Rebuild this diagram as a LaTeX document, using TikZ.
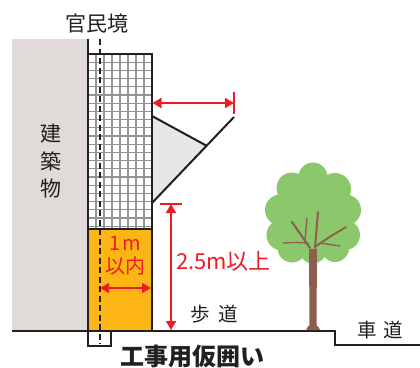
\documentclass[tikz,border=0pt]{standalone}
\usepackage{fontspec}
\setmainfont{Noto Sans CJK JP}
\usetikzlibrary{arrows.meta}
\definecolor{wallc}{HTML}{E0DBD8}
\definecolor{inkc}{HTML}{231F20}
\definecolor{redc}{HTML}{ED1C24}
\definecolor{orangec}{HTML}{FDB515}
\definecolor{gridc}{HTML}{939598}
\definecolor{awningc}{HTML}{E6E7E8}
\definecolor{leafc}{HTML}{8BC76B}
\definecolor{trunkc}{HTML}{8B5E4D}
\tikzset{
  outline/.style={draw=inkc,line width=2pt},
  dim/.style={draw=redc,line width=1.7pt},
  dimarrow/.style={dim,{Triangle[length=9pt,width=10pt]}-{Triangle[length=9pt,width=10pt]}},
  lab/.style={text=inkc,inner sep=0pt,font=\fontsize{21}{27.5}\selectfont,align=center},
  sublab/.style={text=inkc,inner sep=0pt,font=\fontsize{19.5}{22}\selectfont},
  redlab/.style={text=redc,inner sep=0pt,align=center},
  branch/.style={draw=trunkc,line cap=round,line width=1.3pt},
}
\begin{document}
\begin{tikzpicture}[x=1pt,y=-1pt]
\useasboundingbox (0,0) rectangle (420,367);
% building
\fill[wallc] (12,39) rectangle (88,331);
% orange hoarding
\fill[orangec] (88,229) rectangle (152,330);
% mesh
\begin{scope}
\clip (88,54) rectangle (152,229);
\foreach \i in {1,...,7} \draw[gridc,line width=1.2pt] ({88+8*\i},54) -- ({88+8*\i},229);
\foreach \j in {1,...,21} \draw[gridc,line width=1.2pt] (88,{54+8.2*\j}) -- (152,{54+8.2*\j});
\end{scope}
% awning
\coordinate (awA) at (152,116);
\coordinate (awB) at (207,146);
\coordinate (awC) at (152,203);
\coordinate (awD) at (234,117);
\fill[awningc] (awA) -- (awB) -- (awC) -- cycle;
\draw[outline] (awA) -- (awB);
\draw[outline] (awC) -- (awD);
% hoarding outline
\draw[outline] (88,54) -- (152,54) -- (152,330);
\draw[outline] (88,229) -- (152,229);
\draw[outline] (88,39) -- (88,346) -- (111,346) -- (111,331);
% boundary line
\draw[inkc,line width=2pt,dash pattern=on 6pt off 3.5pt] (99.5,39) -- (99.5,344);
% ground
\coordinate (g0) at (12,330.5);
\coordinate (g1) at (335,330.5);
\coordinate (g2) at (335,345);
\coordinate (g3) at (420,345);
\draw[outline] (g0) -- (g1) -- (g2) -- (g3);
% tree
\fill[leafc]
 (313,177) circle (14.5)
 (292,188) circle (15.5)
 (335,189) circle (16)
 (280.5,210) circle (15.5)
 (345.5,210) circle (15.5)
 (282,235) circle (15.5)
 (345,235) circle (15)
 (292,248) circle (14.5)
 (313,250) circle (13.5)
 (335,248) circle (14)
 (313,212) circle (33)
 (296,205) circle (20)
 (330,205) circle (20)
 (298,232) circle (18)
 (328,232) circle (18);
\fill[trunkc] (309,249) -- (317,249) -- (316.5,325) -- (319,328) -- (320,330) -- (306,330) -- (307,328) -- (309.5,325) -- cycle;
\draw[branch,line width=2pt] (310,248) -- (292,222);
\draw[branch] (305,240) -- (307,218);
\draw[branch] (308,243) -- (295,242.5) -- (283,243);
\draw[branch,line width=2pt] (315,248) -- (318,212);
\draw[branch,line width=1.8pt] (316,246) -- (331,236) -- (346,227);
\draw[branch] (320,243) -- (340,246);
% dimensions
\coordinate (d1a) at (152.5,103);
\coordinate (d1b) at (234,103);
\draw[dimarrow] (d1a) -- (d1b);
\draw[dim] (234,92) -- (234,114);
\coordinate (d2a) at (171,204);
\coordinate (d2b) at (171,330);
\draw[dimarrow] (d2a) -- (d2b);
\draw[dim] (160,204) -- (182,204);
\coordinate (d3a) at (100,288);
\coordinate (d3b) at (151,288);
\draw[dimarrow] (d3a) -- (d3b);
% labels
\node[lab] (border) at (97,24) {官民境};
\node[lab] (bldg) at (51,161.5) {建\\築\\物};
\node[sublab] (walk) at (214,314) {歩\hspace{9pt}道};
\node[sublab] (road) at (380,330.5) {車\hspace{7pt}道};
\node[text=inkc,inner sep=0pt,font=\fontsize{24}{26}\selectfont\bfseries] (title) at (192.5,356.5) {工事用仮囲い};
\node[redlab,font=\fontsize{20}{23}\selectfont] (limit) at (125,256) {1\hspace{1.5pt}m\\以内};
\node[redlab,font=\fontsize{22}{24}\selectfont] (height) at (223.5,261) {2.5m以上};
\end{tikzpicture}
\end{document}
